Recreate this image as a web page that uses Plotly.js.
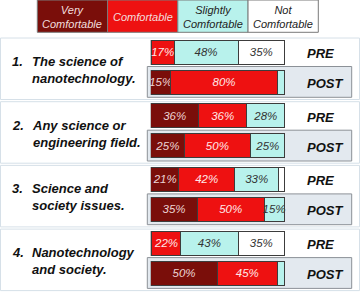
<!DOCTYPE html>
<html><head><meta charset="utf-8">
<script src="https://cdn.plot.ly/plotly-3.0.1.min.js"></script>
<style>html,body{margin:0;padding:0;background:#fff}#c{width:362px;height:292px}</style>
</head><body><div id="c"></div>
<script>
// ---- data ----
const categories = ["Very Comfortable", "Comfortable", "Slightly Comfortable", "Not Comfortable"];
const legendLabels = ["Very<br>Comfortable", "Comfortable", "Slightly<br>Comfortable", "Not<br>Comfortable"];
const questionNumbers = ["1.", "2.", "3.", "4."];
const questions = ["The science of<br>nanotechnology.", "Any science or<br>engineering field.", "Science and<br>society issues.", "Nanotechnology<br>and society."];
const phases = ["PRE", "POST"];
// percentages per question (PRE)
const veryPre   = [0.5, 36, 21, 0.5];
const comfPre   = [17, 36, 42, 22];
const slightPre = [48, 28, 33, 43];
const notPre    = [35, 0.5, 4, 35];
// percentages per question (POST)
const veryPost   = [15, 25, 35, 50];
const comfPost   = [80, 50, 50, 45];
const slightPost = [5, 25, 15, 5];
const notPost    = [0.5, 0.5, 0.5, 0.5];

// ---- styling ----
const colors = ["#7a0e0a", "#ee1111", "#b8f2ec", "#ffffff"];
const textColors = ["#ecd4d4", "#ffe8e8", "#333333", "#333333"];
const FONT = "Liberation Sans, Arial, sans-serif";
const W = 362, H = 292;
const firstTop = 40, step = 63.7, postOff = 30, barH = 24;
const x0px = 150.7, px100 = 133.3, xMax = 102;

const preTop = i => firstTop + i * step;
const yCenters = [];
for (let i = 0; i < questions.length; i++) {
  yCenters.push(preTop(i) + barH / 2);
  yCenters.push(preTop(i) + postOff + barH / 2);
}
const series = [[veryPre, veryPost], [comfPre, comfPost], [slightPre, slightPost], [notPre, notPost]];

const traces = series.map((s, k) => {
  const x = [];
  for (let i = 0; i < questions.length; i++) { x.push(s[0][i]); x.push(s[1][i]); }
  return {
    type: "bar", orientation: "h", name: categories[k],
    y: yCenters, x: x, width: barH,
    marker: {color: colors[k], line: {color: "#3c3c3c", width: 1}},
    text: x.map(v => v >= 10 ? "<i>" + v + "%</i>" : ""),
    textposition: "inside", insidetextanchor: "middle", textangle: 0, constraintext: "none",
    textfont: {family: FONT, size: 11.5, color: textColors[k]},
    hoverinfo: "none", cliponaxis: false, showlegend: false
  };
});

const shapes = [], annotations = [];
const px = v => v / W;
const bi = s => "<b><i>" + s + "</i></b>";
// legend cells
const legX0 = 37.3, legW = 70.25, legH = 32.3;
categories.forEach((c, k) => {
  shapes.push({type: "rect", xref: "paper", yref: "y", x0: px(legX0 + k * legW), x1: px(legX0 + (k + 1) * legW),
    y0: 0, y1: legH, fillcolor: colors[k], line: {color: "#7a7a7a", width: 1}, layer: "below"});
  annotations.push({xref: "paper", yref: "y", x: px(legX0 + (k + 0.5) * legW), y: legH / 2 + 0.5,
    text: "<i>" + legendLabels[k].replace("<br>", "</i><br><i>") + "</i>", showarrow: false,
    xanchor: "center", yanchor: "middle", align: "center",
    font: {family: FONT, size: 11, color: k < 2 ? "#f2dede" : "#222"}});
});
// panels, POST boxes, labels
questions.forEach((q, i) => {
  const t = preTop(i);
  shapes.push({type: "rect", xref: "paper", yref: "y", x0: px(0.5), x1: px(359.5), y0: t - 2, y1: t + 59.5,
    fillcolor: "#ffffff", line: {color: "#d6e0e8", width: 1}, layer: "below"});
  shapes.push({type: "rect", xref: "paper", yref: "y", x0: px(147.3), x1: px(351.7), y0: t + 26.5, y1: t + 57.3,
    fillcolor: "#e3e9ef", line: {color: "#8c9197", width: 1}, layer: "below"});
  annotations.push({xref: "paper", yref: "y", x: px(9.5), y: t + 21.5, text: bi(questionNumbers[i]), showarrow: false,
    xanchor: "left", yanchor: "middle", font: {family: FONT, size: 13, color: "#111"}});
  annotations.push({xref: "paper", yref: "y", x: px(29.5), y: t + 30, text: q.split("<br>").map(bi).join("<br>"), showarrow: false,
    xanchor: "left", yanchor: "middle", align: "left",
    font: {family: FONT, size: 13, color: "#111"}});
  phases.forEach((p, j) => {
    annotations.push({xref: "paper", yref: "y", x: px(304.5), y: t + j * postOff + barH / 2 + 1.5, text: bi(p), showarrow: false,
      xanchor: "left", yanchor: "middle", font: {family: FONT, size: 13, color: "#111"}});
  });
});

const layout = {
  width: W, height: H, margin: {l: 0, r: 0, t: 0, b: 0, pad: 0},
  paper_bgcolor: "#ffffff", plot_bgcolor: "rgba(0,0,0,0)",
  barmode: "stack", bargap: 0, showlegend: false,
  xaxis: {range: [0, xMax], domain: [x0px / W, (x0px + px100 * xMax / 100) / W], visible: false, fixedrange: true},
  yaxis: {range: [H, 0], domain: [0, 1], visible: false, fixedrange: true},
  shapes: shapes, annotations: annotations
};
Plotly.newPlot("c", traces, layout, {displayModeBar: false, staticPlot: true});
</script></body></html>
